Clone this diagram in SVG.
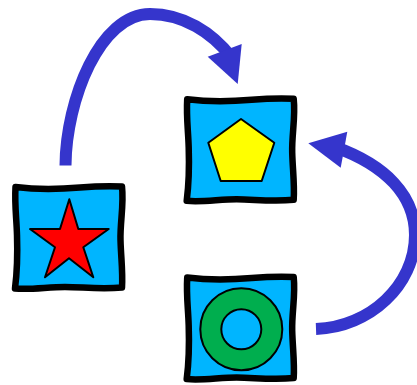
<svg xmlns="http://www.w3.org/2000/svg" width="417" height="385" viewBox="0 0 417 385">
<style>
.box{fill:#00b5ff;stroke:#000;stroke-width:6.500;stroke-linejoin:round}
.shape{stroke:#000;stroke-width:2;stroke-linejoin:round}
.arc{fill:none;stroke:#3535cc;stroke-width:12}
.head{fill:#3535cc}
</style>
<defs>
<path id="b" d="M15.500 187C40 190 62 189 80 187.500C95 186.300 110 186 122 186.500C124 205 120 222 120.500 240C121 258 123 272 122 287.500C100 289.500 82 287 65 287C48 287 30 290 15 288.500C18 265 17.500 250 17 235C16.500 218 14.500 205 15.500 187Z"/>
</defs>
<g id="connectors">
<path class="arc" d="M65.500 165.500C66 100 100 14 150 14C183 14 212 32 232 58"/>
<path class="head" d="M207.700 56.700L241.700 44L237.700 84Z"/>
<path class="arc" d="M316 329C370 327 415 285 415 235C415 195 385 165 335 147"/>
<path class="head" d="M308.300 143.300L347.300 131.700L340.700 167.700Z"/>
</g>
<g id="star-node">
<use href="#b" class="box"/>
<polygon class="shape" fill="#f00" points="69.300,199.300 78.300,229 108.700,229 83.300,247.300 93.300,277.300 69,258.300 45,277.300 55,247.300 30,229 60,229"/>
</g>
<g id="pentagon-node">
<use href="#b" class="box" transform="translate(171.700,-87.700)"/>
<polygon class="shape" fill="#ff0" points="241,119 274.300,142.700 261.700,181 220.700,181 208.300,142.700"/>
</g>
<g id="ring-node">
<use href="#b" class="box" transform="translate(171.700,90.600)"/>
<circle class="shape" fill="#00ae4e" cx="241.300" cy="329.300" r="41"/>
<circle class="shape" fill="#00b5ff" cx="241.300" cy="329.300" r="20"/>
</g>
</svg>
